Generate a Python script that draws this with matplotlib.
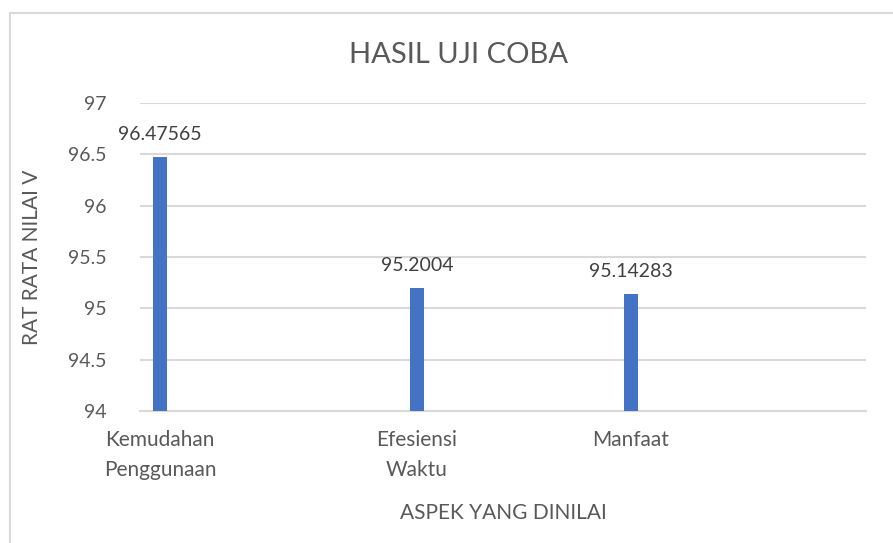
import matplotlib.pyplot as plt
from matplotlib.patches import Rectangle

categories = ["Kemudahan\nPenggunaan", "Efesiensi\nWaktu", "Manfaat"]
values = [96.47565, 95.2004, 95.14283]
value_labels = ["96.47565", "95.2004", "95.14283"]
y_ticks = [94, 94.5, 95, 95.5, 96, 96.5, 97]
y_tick_labels = ["94", "94.5", "95", "95.5", "96", "96.5", "97"]

# where the bars sit along the category axis (0..1 across the plot area)
x_pos = [0.0275, 0.381, 0.676]

text_col = "#595959"
grid_col = "#D9D9D9"
bar_col = "#4472C4"

plt.rcParams['font.family'] = ['Lato', 'DejaVu Sans']

fig = plt.figure(figsize=(8.93, 5.43), dpi=100)
ax = fig.add_axes([0.157, 0.243, 0.813, 0.567])

ax.bar(x_pos, [v - y_ticks[0] for v in values], bottom=y_ticks[0],
       width=0.019, color=bar_col, zorder=3)

for x, v, lab in zip(x_pos, values, value_labels):
    ax.annotate(lab, (x, v), xytext=(0, 10), textcoords="offset points",
                ha="center", va="bottom", fontsize=14, color="#404040")

ax.set_xlim(0, 1)
ax.set_ylim(y_ticks[0], y_ticks[-1])
ax.set_yticks(y_ticks)
ax.set_yticklabels(y_tick_labels, fontsize=14, color=text_col)
ax.set_xticks(x_pos)
ax.set_xticklabels(categories, fontsize=15, color=text_col, linespacing=1.6)
ax.tick_params(axis="both", length=0)
ax.tick_params(axis="y", pad=24)
ax.tick_params(axis="x", pad=14)

ax.grid(axis="y", color=grid_col, linewidth=1.5, zorder=0)
for s in ["top", "right", "left"]:
    ax.spines[s].set_visible(False)
ax.spines["bottom"].set_color(grid_col)
ax.spines["bottom"].set_linewidth(1.5)

ax.set_xlabel("ASPEK YANG DINILAI", fontsize=15, color=text_col)
ax.xaxis.set_label_coords(0.5, -0.30)
ax.set_ylabel("RAT RATA NILAI V", fontsize=15, color=text_col)
ax.yaxis.set_label_coords(-0.135, 0.5)

fig.text(0.513, 0.899, "HASIL UJI COBA", ha="center", va="center",
         fontsize=21, color=text_col)

# chart frame
fig.patches.append(Rectangle((10 / 893, -0.1), 1.1, 1.1 - 13 / 543,
                             transform=fig.transFigure, fill=False,
                             edgecolor=grid_col, linewidth=1.5))

fig.savefig("out.png", dpi=100)
